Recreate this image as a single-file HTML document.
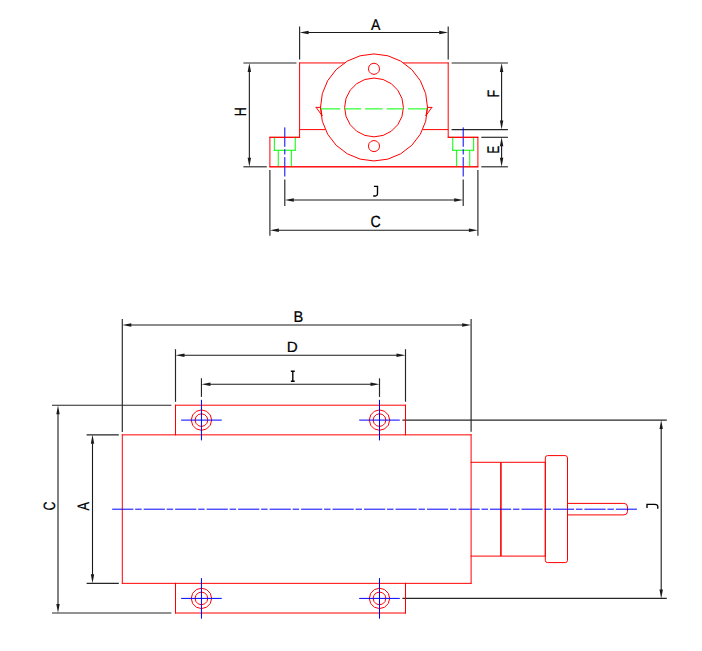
<!DOCTYPE html>
<html><head><meta charset="utf-8"><style>
html,body{margin:0;padding:0;background:#fff;}
body{width:702px;height:651px;overflow:hidden;}
svg{display:block;}
text{font-family:"Liberation Sans",sans-serif;font-size:16px;fill:#000;text-rendering:geometricPrecision;stroke:#000;stroke-width:0.25px;}
</style></head><body>
<svg width="702" height="651" viewBox="0 0 702 651">
<rect width="702" height="651" fill="#fff"/>
<line x1="299.6" y1="26.6" x2="299.6" y2="59.5" stroke="#262626" stroke-width="1.15"/>
<line x1="448.2" y1="26.6" x2="448.2" y2="59.5" stroke="#262626" stroke-width="1.15"/>
<line x1="308.1" y1="32.45" x2="439.7" y2="32.45" stroke="#1a1a1a" stroke-width="1.1"/>
<polygon points="299.60,32.45 308.60,30.75 308.60,34.15" fill="#1a1a1a" stroke="none"/>
<polygon points="448.20,32.45 439.20,34.15 439.20,30.75" fill="#1a1a1a" stroke="none"/>
<line x1="243.4" y1="62.95" x2="296.5" y2="62.95" stroke="#262626" stroke-width="1.15"/>
<line x1="243.4" y1="166.8" x2="266.8" y2="166.8" stroke="#262626" stroke-width="1.15"/>
<line x1="249.35" y1="71.45" x2="249.35" y2="158.3" stroke="#1a1a1a" stroke-width="1.1"/>
<polygon points="249.35,62.95 251.05,71.95 247.65,71.95" fill="#1a1a1a" stroke="none"/>
<polygon points="249.35,166.80 247.65,157.80 251.05,157.80" fill="#1a1a1a" stroke="none"/>
<line x1="451.6" y1="62.95" x2="507.9" y2="62.95" stroke="#262626" stroke-width="1.15"/>
<line x1="451.6" y1="129.6" x2="507.9" y2="129.6" stroke="#262626" stroke-width="1.15"/>
<line x1="501.6" y1="71.45" x2="501.6" y2="121.1" stroke="#1a1a1a" stroke-width="1.1"/>
<polygon points="501.60,62.95 503.30,71.95 499.90,71.95" fill="#1a1a1a" stroke="none"/>
<polygon points="501.60,129.60 499.90,120.60 503.30,120.60" fill="#1a1a1a" stroke="none"/>
<line x1="481.3" y1="137.3" x2="507.9" y2="137.3" stroke="#262626" stroke-width="1.15"/>
<line x1="481.3" y1="166.8" x2="507.9" y2="166.8" stroke="#262626" stroke-width="1.15"/>
<line x1="501.6" y1="145.8" x2="501.6" y2="158.3" stroke="#1a1a1a" stroke-width="1.1"/>
<polygon points="501.60,137.30 503.30,146.30 499.90,146.30" fill="#1a1a1a" stroke="none"/>
<polygon points="501.60,166.80 499.90,157.80 503.30,157.80" fill="#1a1a1a" stroke="none"/>
<line x1="284.8" y1="179.6" x2="284.8" y2="206" stroke="#262626" stroke-width="1.15"/>
<line x1="463.2" y1="179.6" x2="463.2" y2="206" stroke="#262626" stroke-width="1.15"/>
<line x1="293.3" y1="199.95" x2="454.7" y2="199.95" stroke="#1a1a1a" stroke-width="1.1"/>
<polygon points="284.80,199.95 293.80,198.25 293.80,201.65" fill="#1a1a1a" stroke="none"/>
<polygon points="463.20,199.95 454.20,201.65 454.20,198.25" fill="#1a1a1a" stroke="none"/>
<line x1="269.9" y1="170" x2="269.9" y2="235.8" stroke="#262626" stroke-width="1.15"/>
<line x1="477.9" y1="170" x2="477.9" y2="235.8" stroke="#262626" stroke-width="1.15"/>
<line x1="278.4" y1="230.3" x2="469.4" y2="230.3" stroke="#1a1a1a" stroke-width="1.1"/>
<polygon points="269.90,230.30 278.90,228.60 278.90,232.00" fill="#1a1a1a" stroke="none"/>
<polygon points="477.90,230.30 468.90,232.00 468.90,228.60" fill="#1a1a1a" stroke="none"/>
<line x1="344.30" y1="62.95" x2="299.60" y2="62.95" stroke="#ff0000" stroke-width="1.0" stroke-linecap="square"/>
<line x1="299.60" y1="62.95" x2="299.60" y2="137.30" stroke="#ff0000" stroke-width="1.0" stroke-linecap="square"/>
<line x1="299.60" y1="137.30" x2="269.90" y2="137.30" stroke="#ff0000" stroke-width="1.0" stroke-linecap="square"/>
<line x1="269.90" y1="137.30" x2="269.90" y2="166.80" stroke="#ff0000" stroke-width="1.0" stroke-linecap="square"/>
<line x1="269.90" y1="166.80" x2="477.90" y2="166.80" stroke="#ff0000" stroke-width="1.0" stroke-linecap="square"/>
<line x1="477.90" y1="166.80" x2="477.90" y2="137.30" stroke="#ff0000" stroke-width="1.0" stroke-linecap="square"/>
<line x1="477.90" y1="137.30" x2="448.20" y2="137.30" stroke="#ff0000" stroke-width="1.0" stroke-linecap="square"/>
<line x1="448.20" y1="137.30" x2="448.20" y2="62.95" stroke="#ff0000" stroke-width="1.0" stroke-linecap="square"/>
<line x1="448.20" y1="62.95" x2="403.70" y2="62.95" stroke="#ff0000" stroke-width="1.0" stroke-linecap="square"/>
<line x1="299.6" y1="129.6" x2="325.3006416880058" y2="129.6" stroke="#ff0000" stroke-width="1.0"/>
<line x1="448.2" y1="129.6" x2="422.6993583119942" y2="129.6" stroke="#ff0000" stroke-width="1.0"/>
<polygon points="427.50,107.45 425.68,93.60 420.33,80.70 411.83,69.62 400.75,61.12 387.85,55.77 374.00,53.95 360.15,55.77 347.25,61.12 336.17,69.62 327.67,80.70 322.32,93.60 320.50,107.45 322.32,121.30 327.67,134.20 336.17,145.28 347.25,153.78 360.15,159.13 374.00,160.95 387.85,159.13 400.75,153.78 411.83,145.28 420.33,134.20 425.68,121.30" fill="none" stroke="#ff0000" stroke-width="1.0"/>
<polygon points="403.40,107.45 401.96,98.36 397.79,90.17 391.28,83.66 383.09,79.49 374.00,78.05 364.91,79.49 356.72,83.66 350.21,90.17 346.04,98.36 344.60,107.45 346.04,116.54 350.21,124.73 356.72,131.24 364.91,135.41 374.00,136.85 383.09,135.41 391.28,131.24 397.79,124.73 401.96,116.54" fill="none" stroke="#ff0000" stroke-width="1.0"/>
<polygon points="379.60,68.80 378.85,66.00 376.80,63.95 374.00,63.20 371.20,63.95 369.15,66.00 368.40,68.80 369.15,71.60 371.20,73.65 374.00,74.40 376.80,73.65 378.85,71.60" fill="none" stroke="#ff0000" stroke-width="1.0"/>
<polygon points="379.60,146.10 378.85,143.30 376.80,141.25 374.00,140.50 371.20,141.25 369.15,143.30 368.40,146.10 369.15,148.90 371.20,150.95 374.00,151.70 376.80,150.95 378.85,148.90" fill="none" stroke="#ff0000" stroke-width="1.0"/>
<line x1="316.20" y1="107.40" x2="320.50" y2="107.40" stroke="#ff0000" stroke-width="1.0" stroke-linecap="square"/>
<line x1="320.50" y1="107.40" x2="322.00" y2="115.60" stroke="#ff0000" stroke-width="1.0" stroke-linecap="square"/>
<line x1="322.00" y1="115.60" x2="316.20" y2="107.40" stroke="#ff0000" stroke-width="1.0" stroke-linecap="square"/>
<line x1="431.80" y1="107.40" x2="427.50" y2="107.40" stroke="#ff0000" stroke-width="1.0" stroke-linecap="square"/>
<line x1="427.50" y1="107.40" x2="426.00" y2="115.60" stroke="#ff0000" stroke-width="1.0" stroke-linecap="square"/>
<line x1="426.00" y1="115.60" x2="431.80" y2="107.40" stroke="#ff0000" stroke-width="1.0" stroke-linecap="square"/>
<line x1="320.8" y1="108.9" x2="340.3" y2="108.9" stroke="#00ff00" stroke-width="1.0"/>
<line x1="344.4" y1="108.9" x2="361.2" y2="108.9" stroke="#00ff00" stroke-width="1.0"/>
<line x1="365.1" y1="108.9" x2="382.5" y2="108.9" stroke="#00ff00" stroke-width="1.0"/>
<line x1="386.5" y1="108.9" x2="403.5" y2="108.9" stroke="#00ff00" stroke-width="1.0"/>
<line x1="407.8" y1="108.9" x2="427.2" y2="108.9" stroke="#00ff00" stroke-width="1.0"/>
<line x1="274.35" y1="137.30" x2="274.35" y2="150.25" stroke="#00ff00" stroke-width="1.0" stroke-linecap="square"/>
<line x1="274.35" y1="150.25" x2="295.25" y2="150.25" stroke="#00ff00" stroke-width="1.0" stroke-linecap="square"/>
<line x1="295.25" y1="150.25" x2="295.25" y2="137.30" stroke="#00ff00" stroke-width="1.0" stroke-linecap="square"/>
<line x1="278.25" y1="150.25" x2="278.25" y2="166.8" stroke="#00ff00" stroke-width="1.0"/>
<line x1="291.35" y1="150.25" x2="291.35" y2="166.8" stroke="#00ff00" stroke-width="1.0"/>
<line x1="284.8" y1="127.4" x2="284.8" y2="146.8" stroke="#0000ff" stroke-width="1.0"/>
<line x1="284.8" y1="149.2" x2="284.8" y2="154.5" stroke="#0000ff" stroke-width="1.0"/>
<line x1="284.8" y1="157.1" x2="284.8" y2="176.5" stroke="#0000ff" stroke-width="1.0"/>
<line x1="452.75" y1="137.30" x2="452.75" y2="150.25" stroke="#00ff00" stroke-width="1.0" stroke-linecap="square"/>
<line x1="452.75" y1="150.25" x2="473.65" y2="150.25" stroke="#00ff00" stroke-width="1.0" stroke-linecap="square"/>
<line x1="473.65" y1="150.25" x2="473.65" y2="137.30" stroke="#00ff00" stroke-width="1.0" stroke-linecap="square"/>
<line x1="456.65" y1="150.25" x2="456.65" y2="166.8" stroke="#00ff00" stroke-width="1.0"/>
<line x1="469.75" y1="150.25" x2="469.75" y2="166.8" stroke="#00ff00" stroke-width="1.0"/>
<line x1="463.2" y1="127.4" x2="463.2" y2="146.8" stroke="#0000ff" stroke-width="1.0"/>
<line x1="463.2" y1="149.2" x2="463.2" y2="154.5" stroke="#0000ff" stroke-width="1.0"/>
<line x1="463.2" y1="157.1" x2="463.2" y2="176.5" stroke="#0000ff" stroke-width="1.0"/>
<line x1="269.9" y1="137.3" x2="299.6" y2="137.3" stroke="#ff0000" stroke-width="1.0"/>
<line x1="448.2" y1="137.3" x2="477.9" y2="137.3" stroke="#ff0000" stroke-width="1.0"/>
<line x1="269.9" y1="166.8" x2="477.9" y2="166.8" stroke="#ff0000" stroke-width="1.0"/>
<text transform="translate(370.973,29.600) scale(0.8766,0.9720)">A</text>
<path transform="translate(372.900,196.900) scale(1.0000,1.0000)" d="M1.0,-10.5 H4.6 V-3.6 C4.6,-1.6 3.8,-0.9 2.4,-0.9 H0.3" fill="none" stroke="#000" stroke-width="1.35" vector-effect="non-scaling-stroke"/>
<text transform="translate(370.378,226.741) scale(0.8882,1.0152)">C</text>
<text transform="translate(245.950,116.278) rotate(-90) scale(0.7832,1.0175)">H</text>
<text transform="translate(498.950,97.574) rotate(-90) scale(0.7800,1.0356)">F</text>
<text transform="translate(499.150,153.388) rotate(-90) scale(0.7150,1.0538)">E</text>
<line x1="122.3" y1="319.0" x2="122.3" y2="432.0" stroke="#262626" stroke-width="1.15"/>
<line x1="471.1" y1="319.0" x2="471.1" y2="431.8" stroke="#262626" stroke-width="1.15"/>
<line x1="130.8" y1="325.0" x2="462.6" y2="325.0" stroke="#1a1a1a" stroke-width="1.1"/>
<polygon points="122.30,325.00 131.30,323.30 131.30,326.70" fill="#1a1a1a" stroke="none"/>
<polygon points="471.10,325.00 462.10,326.70 462.10,323.30" fill="#1a1a1a" stroke="none"/>
<line x1="175.5" y1="349.2" x2="175.5" y2="401.8" stroke="#262626" stroke-width="1.15"/>
<line x1="405.5" y1="349.2" x2="405.5" y2="401.8" stroke="#262626" stroke-width="1.15"/>
<line x1="184.0" y1="355.3" x2="397.0" y2="355.3" stroke="#1a1a1a" stroke-width="1.1"/>
<polygon points="175.50,355.30 184.50,353.60 184.50,357.00" fill="#1a1a1a" stroke="none"/>
<polygon points="405.50,355.30 396.50,357.00 396.50,353.60" fill="#1a1a1a" stroke="none"/>
<line x1="201.45" y1="378.3" x2="201.45" y2="396.9" stroke="#262626" stroke-width="1.15"/>
<line x1="379.5" y1="378.3" x2="379.5" y2="396.9" stroke="#262626" stroke-width="1.15"/>
<line x1="209.95" y1="384.3" x2="371.0" y2="384.3" stroke="#1a1a1a" stroke-width="1.1"/>
<polygon points="201.45,384.30 210.45,382.60 210.45,386.00" fill="#1a1a1a" stroke="none"/>
<polygon points="379.50,384.30 370.50,386.00 370.50,382.60" fill="#1a1a1a" stroke="none"/>
<line x1="52.0" y1="405.2" x2="171.4" y2="405.2" stroke="#262626" stroke-width="1.15"/>
<line x1="52.0" y1="613.0" x2="171.4" y2="613.0" stroke="#262626" stroke-width="1.15"/>
<line x1="58.0" y1="413.7" x2="58.0" y2="604.5" stroke="#1a1a1a" stroke-width="1.1"/>
<polygon points="58.00,405.20 59.70,414.20 56.30,414.20" fill="#1a1a1a" stroke="none"/>
<polygon points="58.00,613.00 56.30,604.00 59.70,604.00" fill="#1a1a1a" stroke="none"/>
<line x1="86.6" y1="434.85" x2="118.8" y2="434.85" stroke="#262626" stroke-width="1.15"/>
<line x1="86.6" y1="583.35" x2="118.8" y2="583.35" stroke="#262626" stroke-width="1.15"/>
<line x1="92.5" y1="443.35" x2="92.5" y2="574.85" stroke="#1a1a1a" stroke-width="1.1"/>
<polygon points="92.50,434.85 94.20,443.85 90.80,443.85" fill="#1a1a1a" stroke="none"/>
<polygon points="92.50,583.35 90.80,574.35 94.20,574.35" fill="#1a1a1a" stroke="none"/>
<line x1="402.4" y1="420.1" x2="666.8" y2="420.1" stroke="#262626" stroke-width="1.15"/>
<line x1="402.4" y1="598.4" x2="666.8" y2="598.4" stroke="#262626" stroke-width="1.15"/>
<line x1="661.2" y1="428.6" x2="661.2" y2="589.9" stroke="#1a1a1a" stroke-width="1.1"/>
<polygon points="661.20,420.10 662.90,429.10 659.50,429.10" fill="#1a1a1a" stroke="none"/>
<polygon points="661.20,598.40 659.50,589.40 662.90,589.40" fill="#1a1a1a" stroke="none"/>
<line x1="122.30" y1="434.85" x2="471.10" y2="434.85" stroke="#ff0000" stroke-width="1.0" stroke-linecap="square"/>
<line x1="471.10" y1="434.85" x2="471.10" y2="583.35" stroke="#ff0000" stroke-width="1.0" stroke-linecap="square"/>
<line x1="471.10" y1="583.35" x2="122.30" y2="583.35" stroke="#ff0000" stroke-width="1.0" stroke-linecap="square"/>
<line x1="122.30" y1="583.35" x2="122.30" y2="434.85" stroke="#ff0000" stroke-width="1.0" stroke-linecap="square"/>
<line x1="175.50" y1="434.85" x2="175.50" y2="405.20" stroke="#ff0000" stroke-width="1.0" stroke-linecap="square"/>
<line x1="175.50" y1="405.20" x2="405.50" y2="405.20" stroke="#ff0000" stroke-width="1.0" stroke-linecap="square"/>
<line x1="405.50" y1="405.20" x2="405.50" y2="434.85" stroke="#ff0000" stroke-width="1.0" stroke-linecap="square"/>
<line x1="175.50" y1="583.35" x2="175.50" y2="613.00" stroke="#ff0000" stroke-width="1.0" stroke-linecap="square"/>
<line x1="175.50" y1="613.00" x2="405.50" y2="613.00" stroke="#ff0000" stroke-width="1.0" stroke-linecap="square"/>
<line x1="405.50" y1="613.00" x2="405.50" y2="583.35" stroke="#ff0000" stroke-width="1.0" stroke-linecap="square"/>
<line x1="471.10" y1="462.30" x2="545.30" y2="462.30" stroke="#ff0000" stroke-width="1.0" stroke-linecap="square"/>
<line x1="545.30" y1="462.30" x2="545.30" y2="556.10" stroke="#ff0000" stroke-width="1.0" stroke-linecap="square"/>
<line x1="545.30" y1="556.10" x2="471.10" y2="556.10" stroke="#ff0000" stroke-width="1.0" stroke-linecap="square"/>
<line x1="500.9" y1="462.3" x2="500.9" y2="556.1" stroke="#ff0000" stroke-width="1.6"/>
<rect x="545.3" y="455.6" width="22.200000000000045" height="107.0" rx="2.3" fill="none" stroke="#ff0000" stroke-width="1.0"/>
<path d="M567.5,503.4 H623.9 A3.6,3.6 0 0 1 627.5,507.0 V511.29999999999995 A3.6,3.6 0 0 1 623.9,514.9 H567.5" fill="none" stroke="#ff0000" stroke-width="1.0"/>
<polygon points="211.65,420.10 210.28,415.00 206.55,411.27 201.45,409.90 196.35,411.27 192.62,415.00 191.25,420.10 192.62,425.20 196.35,428.93 201.45,430.30 206.55,428.93 210.28,425.20" fill="none" stroke="#ff0000" stroke-width="1.0"/>
<polygon points="207.80,420.10 206.95,416.93 204.62,414.60 201.45,413.75 198.27,414.60 195.95,416.93 195.10,420.10 195.95,423.28 198.27,425.60 201.45,426.45 204.62,425.60 206.95,423.28" fill="none" stroke="#ff0000" stroke-width="1.0"/>
<line x1="181.14999999999998" y1="420.1" x2="221.75" y2="420.1" stroke="#0000ff" stroke-width="1.0"/>
<line x1="201.45" y1="399.8" x2="201.45" y2="440.40000000000003" stroke="#0000ff" stroke-width="1.0"/>
<polygon points="211.65,598.40 210.28,593.30 206.55,589.57 201.45,588.20 196.35,589.57 192.62,593.30 191.25,598.40 192.62,603.50 196.35,607.23 201.45,608.60 206.55,607.23 210.28,603.50" fill="none" stroke="#ff0000" stroke-width="1.0"/>
<polygon points="207.80,598.40 206.95,595.23 204.62,592.90 201.45,592.05 198.27,592.90 195.95,595.23 195.10,598.40 195.95,601.57 198.27,603.90 201.45,604.75 204.62,603.90 206.95,601.57" fill="none" stroke="#ff0000" stroke-width="1.0"/>
<line x1="181.14999999999998" y1="598.4" x2="221.75" y2="598.4" stroke="#0000ff" stroke-width="1.0"/>
<line x1="201.45" y1="578.1" x2="201.45" y2="618.6999999999999" stroke="#0000ff" stroke-width="1.0"/>
<polygon points="389.70,420.10 388.33,415.00 384.60,411.27 379.50,409.90 374.40,411.27 370.67,415.00 369.30,420.10 370.67,425.20 374.40,428.93 379.50,430.30 384.60,428.93 388.33,425.20" fill="none" stroke="#ff0000" stroke-width="1.0"/>
<polygon points="385.85,420.10 385.00,416.93 382.68,414.60 379.50,413.75 376.32,414.60 374.00,416.93 373.15,420.10 374.00,423.28 376.32,425.60 379.50,426.45 382.68,425.60 385.00,423.28" fill="none" stroke="#ff0000" stroke-width="1.0"/>
<line x1="359.2" y1="420.1" x2="399.8" y2="420.1" stroke="#0000ff" stroke-width="1.0"/>
<line x1="379.5" y1="399.8" x2="379.5" y2="440.40000000000003" stroke="#0000ff" stroke-width="1.0"/>
<polygon points="389.70,598.40 388.33,593.30 384.60,589.57 379.50,588.20 374.40,589.57 370.67,593.30 369.30,598.40 370.67,603.50 374.40,607.23 379.50,608.60 384.60,607.23 388.33,603.50" fill="none" stroke="#ff0000" stroke-width="1.0"/>
<polygon points="385.85,598.40 385.00,595.23 382.68,592.90 379.50,592.05 376.32,592.90 374.00,595.23 373.15,598.40 374.00,601.57 376.32,603.90 379.50,604.75 382.68,603.90 385.00,601.57" fill="none" stroke="#ff0000" stroke-width="1.0"/>
<line x1="359.2" y1="598.4" x2="399.8" y2="598.4" stroke="#0000ff" stroke-width="1.0"/>
<line x1="379.5" y1="578.1" x2="379.5" y2="618.6999999999999" stroke="#0000ff" stroke-width="1.0"/>
<line x1="112.2" y1="509.2" x2="636.9" y2="509.2" stroke="#0000ff" stroke-width="1" stroke-dasharray="21.2 1.8 6.5 1.98"/>
<text transform="translate(293.598,321.600) scale(0.9160,0.9720)">B</text>
<text transform="translate(286.754,352.200) scale(0.9497,0.9175)">D</text>
<path transform="translate(290.100,381.900) scale(1.1739,1.0000)" d="M0.65,-10.65 H3.95 M2.3,-10.65 V-0.65 M0.65,-0.65 H3.95" fill="none" stroke="#000" stroke-width="1.35" vector-effect="non-scaling-stroke"/>
<text transform="translate(55.090,510.583) rotate(-90) scale(0.7796,1.0240)">C</text>
<text transform="translate(88.950,510.575) rotate(-90) scale(0.8012,1.0356)">A</text>
<path transform="translate(658.800,509.000) rotate(-90) scale(1.0000,1.1239)" d="M1.0,-10.5 H4.6 V-3.6 C4.6,-1.6 3.8,-0.9 2.4,-0.9 H0.3" fill="none" stroke="#000" stroke-width="1.35" vector-effect="non-scaling-stroke"/>
</svg>
</body></html>
